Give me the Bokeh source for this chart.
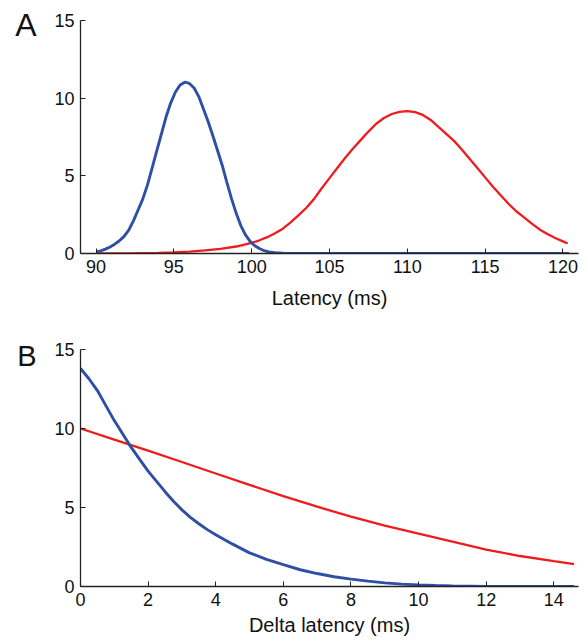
from bokeh.plotting import figure
from bokeh.layouts import column
from bokeh.models import FixedTicker, Range1d, LinearAxis, CustomJSTickFormatter
from bokeh.embed import file_html
from bokeh.resources import INLINE

# Panel A: latency distributions
a_blue_x = [90.0, 90.3, 90.6, 90.9, 91.2, 91.5, 91.8, 92.1, 92.4, 92.7, 93.0, 93.3,
            93.6, 93.9, 94.2, 94.5, 94.8, 95.1, 95.4, 95.7, 96.0, 96.3, 96.6, 96.9,
            97.2, 97.5, 97.8, 98.1, 98.4, 98.7, 99.0, 99.3, 99.6, 99.9, 100.2,
            100.5, 100.8, 101.1, 101.5, 102.0, 103.0, 120.4]
a_blue_y = [0.1, 0.17, 0.28, 0.42, 0.6, 0.82, 1.1, 1.5, 2.1, 2.8, 3.5, 4.4,
            5.5, 6.6, 7.7, 8.8, 9.7, 10.4, 10.85, 11.03, 10.95, 10.65, 10.1, 9.3,
            8.5, 7.6, 6.65, 5.7, 4.6, 3.55, 2.6, 1.8, 1.2, 0.78, 0.5,
            0.32, 0.18, 0.1, 0.05, 0.02, 0.0, 0.0]
a_red_x = [90.0, 92.0, 94.0, 95.0, 96.0, 97.0, 98.0, 99.0, 100.0, 100.5, 101.0,
           101.5, 102.0, 102.5, 103.0, 103.5, 104.0, 104.5, 105.0, 105.5, 106.0,
           106.5, 107.0, 107.5, 108.0, 108.5, 109.0, 109.5, 110.0, 110.5, 111.0,
           111.5, 112.0, 112.5, 113.0, 113.5, 114.0, 114.5, 115.0, 115.5, 116.0,
           116.5, 117.0, 117.5, 118.0, 118.5, 119.0, 119.5, 120.0, 120.3]
a_red_y = [0.0, 0.01, 0.04, 0.07, 0.12, 0.2, 0.3, 0.45, 0.68, 0.85, 1.05,
           1.3, 1.6, 2.0, 2.45, 2.93, 3.5, 4.2, 4.85, 5.5, 6.15,
           6.75, 7.3, 7.85, 8.35, 8.72, 8.98, 9.12, 9.17, 9.1, 8.92,
           8.6, 8.15, 7.7, 7.25, 6.7, 6.1, 5.5, 4.9, 4.3, 3.75,
           3.2, 2.72, 2.32, 1.92, 1.55, 1.25, 1.0, 0.78, 0.64]

# Panel B: delta latency
b_blue_x = [0.0, 0.25, 0.5, 0.75, 1.0, 1.25, 1.5, 1.75, 2.0, 2.25, 2.5, 2.75, 3.0,
            3.25, 3.5, 3.75, 4.0, 4.5, 5.0, 5.5, 6.0, 6.5, 7.0, 7.5, 8.0, 8.5,
            9.0, 9.5, 10.0, 10.5, 11.0, 12.0, 13.0, 14.6]
b_blue_y = [13.8, 13.15, 12.4, 11.45, 10.5, 9.65, 8.8, 8.05, 7.3, 6.65, 6.0, 5.4, 4.85,
            4.38, 3.97, 3.6, 3.28, 2.68, 2.13, 1.72, 1.38, 1.06, 0.82, 0.62, 0.47, 0.34,
            0.23, 0.15, 0.1, 0.06, 0.04, 0.01, 0.0, 0.0]
b_red_x = [0.0, 1.0, 2.0, 3.0, 4.0, 5.0, 6.0, 7.0, 8.0, 9.0, 10.0, 11.0,
           12.0, 13.0, 14.0, 14.6]
b_red_y = [10.0, 9.3, 8.6, 7.88, 7.15, 6.43, 5.72, 5.05, 4.42, 3.85, 3.34, 2.84,
           2.34, 1.93, 1.6, 1.42]

a_xticks = [90, 95, 100, 105, 110, 115, 120]
b_xticks = [0, 2, 4, 6, 8, 10, 12, 14]
yticks = [0, 5, 10, 15]
panel_letters = ["A", "B"]

BLUE = "#2f4fa6"
RED = "#ee1c1c"
FONT = "Liberation Sans"


def style(p, xticks, xlabel, label_standoff):
    p.outline_line_color = None
    p.grid.visible = False
    p.background_fill_color = "white"
    p.border_fill_color = "white"
    for ax in (p.xaxis[0], p.yaxis[0]):
        ax.axis_line_color = "#222222"
        ax.axis_line_width = 1.3
        ax.major_tick_line_color = "#222222"
        ax.major_tick_in = 5
        ax.major_tick_out = 0
        ax.minor_tick_line_color = None
        ax.major_label_text_font = FONT
        ax.major_label_text_font_size = "18px"
        ax.major_label_text_color = "#111111"
        ax.axis_label_text_font = FONT
        ax.axis_label_text_font_size = "20px"
        ax.axis_label_text_font_style = "normal"
        ax.axis_label_text_color = "#111111"
    p.xaxis.ticker = FixedTicker(ticks=xticks)
    p.yaxis.ticker = FixedTicker(ticks=yticks)
    p.xaxis.axis_label = xlabel
    p.xaxis.major_label_standoff = 6
    p.xaxis.axis_label_standoff = label_standoff
    p.yaxis.major_label_standoff = 6


def add_letter(p, letter, ypos, size):
    ax = LinearAxis(ticker=FixedTicker(ticks=[ypos]),
                    formatter=CustomJSTickFormatter(code="return '%s'" % letter))
    ax.axis_line_color = None
    ax.major_tick_line_color = None
    ax.minor_tick_line_color = None
    ax.major_label_text_font = FONT
    ax.major_label_text_font_size = size
    ax.major_label_text_color = "#111111"
    ax.major_label_standoff = 9
    p.add_layout(ax, "left")


pa = figure(width=587, height=318, output_backend="svg", toolbar_location=None,
            x_range=Range1d(89.0, 121.0), y_range=Range1d(0, 15),
            min_border_left=80, min_border_right=9, min_border_top=20,
            min_border_bottom=65)
style(pa, a_xticks, "Latency (ms)", 11)
pa.line(a_red_x, a_red_y, line_color=RED, line_width=2.3)
pa.line(a_blue_x, a_blue_y, line_color=BLUE, line_width=2.9)
add_letter(pa, panel_letters[0], 14.7, "32px")

pb = figure(width=587, height=322, output_backend="svg", toolbar_location=None,
            x_range=Range1d(0, 14.73), y_range=Range1d(0, 15),
            min_border_left=80, min_border_right=9, min_border_top=31,
            min_border_bottom=54)
style(pb, b_xticks, "Delta latency (ms)", 5)
pb.line(b_red_x, b_red_y, line_color=RED, line_width=2.3)
pb.line(b_blue_x, b_blue_y, line_color=BLUE, line_width=2.9)
add_letter(pb, panel_letters[1], 14.62, "29px")

layout = column(pa, pb, spacing=0)
open("out.html", "w").write(file_html(layout, INLINE))
